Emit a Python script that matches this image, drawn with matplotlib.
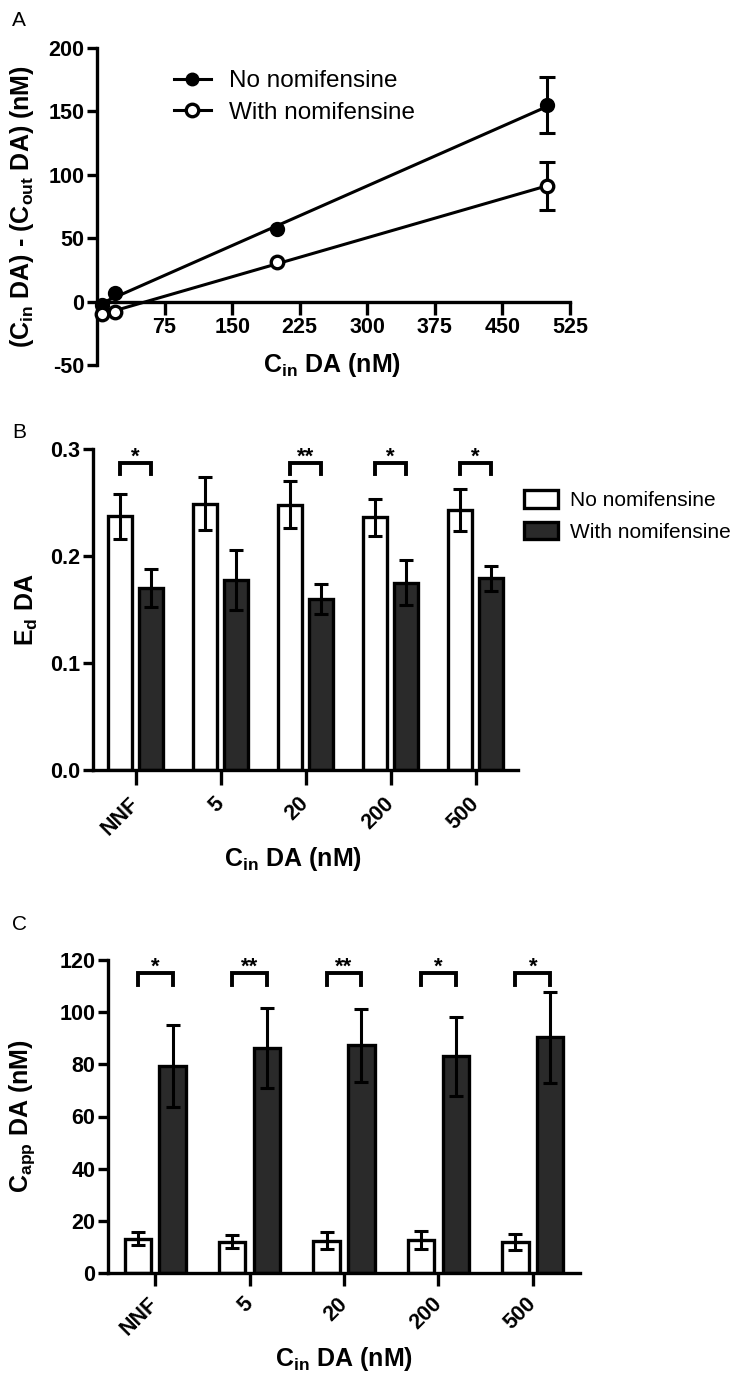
import numpy as np
import matplotlib.pyplot as plt
from matplotlib.lines import Line2D
from matplotlib.ticker import FormatStrFormatter

plt.rcParams['font.family'] = 'Liberation Sans'
plt.rcParams['font.weight'] = 'bold'
plt.rcParams['axes.labelweight'] = 'bold'
plt.rcParams['axes.unicode_minus'] = False
plt.rcParams['mathtext.fontset'] = 'custom'
plt.rcParams['mathtext.rm'] = 'Liberation Sans:bold'
plt.rcParams['mathtext.bf'] = 'Liberation Sans:bold'
plt.rcParams['mathtext.it'] = 'Liberation Sans:bold'
plt.rcParams['mathtext.default'] = 'bf'

# panel A: uptake vs inlet concentration
cin = [5, 20, 200, 500]
diff_no = [-3, 7, 57, 155]
diff_no_err = [0, 0, 0, 22]
diff_with = [-10, -8, 31, 91]
diff_with_err = [0, 0, 0, 19]

# panels B and C
groups = ['NNF', '5', '20', '200', '500']
ed_no = [0.237, 0.249, 0.248, 0.236, 0.243]
ed_no_err = [0.021, 0.025, 0.022, 0.017, 0.020]
ed_with = [0.170, 0.178, 0.160, 0.175, 0.179]
ed_with_err = [0.018, 0.028, 0.014, 0.021, 0.012]
ed_stars = ['*', '', '**', '*', '*']

capp_no = [13.2, 11.9, 12.4, 12.6, 11.9]
capp_no_err = [2.5, 2.5, 3.2, 3.4, 2.9]
capp_with = [79.3, 86.2, 87.4, 83.1, 90.4]
capp_with_err = [15.8, 15.3, 14.0, 15.2, 17.5]
capp_stars = ['*', '**', '**', '*', '*']

darkgrey = '#2a2a2a'
lw = 2.4
tick_fs = 15.5
lab_fs = 18

W, H = 746.0, 1377.0
fig = plt.figure(figsize=(W/100, H/100), dpi=100)


def px_axes(l, t, r, b):
    return fig.add_axes([l/W, 1 - b/H, (r - l)/W, (b - t)/H])


def style(ax, xlen, ylen):
    for s in ['top', 'right']:
        ax.spines[s].set_visible(False)
    for s in ['left', 'bottom']:
        ax.spines[s].set_linewidth(lw)
    ax.tick_params(axis='y', length=ylen, width=lw, labelsize=tick_fs, pad=2)
    ax.tick_params(axis='x', length=xlen, width=lw, labelsize=tick_fs)


# ---------------- A ----------------
axA = px_axes(97, 48, 570, 365)
style(axA, 9, 7)
axA.spines['bottom'].set_position(('data', 0))
for y in [diff_no, diff_with]:
    k = np.polyfit(cin, y, 1)
    xs = np.array([min(cin), max(cin)])
    axA.plot(xs, np.polyval(k, xs), color='k', lw=2.2, zorder=2, clip_on=False)
axA.plot(cin, diff_no, 'o', ms=9, mfc='k', mec='k', mew=2, zorder=4, clip_on=False)
axA.plot(cin, diff_with, 'o', ms=9, mfc='white', mec='k', mew=2.4, zorder=5, clip_on=False)
for y, e in [(diff_no, diff_no_err), (diff_with, diff_with_err)]:
    m = np.array(e) > 0
    axA.errorbar(np.array(cin)[m], np.array(y)[m], yerr=np.array(e)[m], fmt='none',
                 ecolor='k', elinewidth=2.2, capsize=6, capthick=2.2, zorder=3)
axA.set_xlim(0, 525)
axA.set_ylim(-50, 200)
axA.set_xticks([75, 150, 225, 300, 375, 450, 525])
axA.set_yticks([-50, 0, 50, 100, 150, 200])
axA.tick_params(axis='x', pad=2)
axA.set_xlabel('C$_{in}$ DA (nM)', fontsize=lab_fs)
axA.xaxis.set_label_coords(0.497, 0.045)
axA.set_ylabel('(C$_{in}$ DA) - (C$_{out}$ DA) (nM)', fontsize=lab_fs)
axA.yaxis.set_label_coords(-0.13, 0.5)
hA = [Line2D([], [], color='k', lw=2.2, marker='o', ms=9, mfc='k', mec='k'),
      Line2D([], [], color='k', lw=2.2, marker='o', ms=9, mfc='white', mec='k', mew=2.4)]
axA.legend(hA, ['No nomifensine', 'With nomifensine'], loc='upper left',
           bbox_to_anchor=(162/W, 1 - 58/H), bbox_transform=fig.transFigure,
           frameon=False, borderpad=0, handlelength=1.5, handletextpad=0.75,
           labelspacing=0.4, numpoints=1, prop={'size': 17.5, 'weight': 'normal'})


def bar_panel(ax, no, no_err, wi, wi_err, stars, top, leg):
    x = np.arange(len(groups))
    off, bw = 0.185, 0.28
    ax.bar(x - off, no, bw, color='white', edgecolor='k', linewidth=lw,
           label='No nomifensine', zorder=2)
    ax.bar(x + off, wi, bw, color=darkgrey, edgecolor='k', linewidth=lw,
           label='With nomifensine', zorder=2)
    ax.errorbar(x - off, no, yerr=no_err, fmt='none', ecolor='k', elinewidth=2.2,
                capsize=5, capthick=2.2, zorder=3)
    ax.errorbar(x + off, wi, yerr=wi_err, fmt='none', ecolor='k', elinewidth=2.2,
                capsize=5, capthick=2.2, zorder=3)
    ytop, yleg = top
    for i, s in enumerate(stars):
        if not s:
            continue
        ax.plot([i - off, i - off, i + off, i + off], [yleg, ytop, ytop, yleg],
                color='k', lw=2.8, solid_joinstyle='miter', clip_on=False)
        ax.text(i, ytop, s, ha='center', va='baseline', fontsize=16, clip_on=False)
    ax.set_xlim(-0.5, 4.5)
    ax.set_xticks(x)
    ax.set_xticklabels(groups, rotation=45, ha='right', va='center',
                       rotation_mode='anchor')
    if leg:
        ax.legend(loc='upper left', bbox_to_anchor=(514/W, 1 - 480/H),
                  bbox_transform=fig.transFigure, frameon=False, borderpad=0,
                  handlelength=1.6, handleheight=0.9, handletextpad=0.6,
                  labelspacing=0.55, prop={'size': 15, 'weight': 'normal'})


# ---------------- B ----------------
axB = px_axes(93, 449, 518, 770)
style(axB, 11, 7)
bar_panel(axB, ed_no, ed_no_err, ed_with, ed_with_err, ed_stars, (0.287, 0.277), True)
axB.set_ylim(0, 0.3)
axB.set_yticks([0.0, 0.1, 0.2, 0.3])
axB.yaxis.set_major_formatter(FormatStrFormatter('%.1f'))
axB.tick_params(axis='x', pad=11)
axB.set_ylabel('E$_d$ DA', fontsize=lab_fs)
axB.yaxis.set_label_coords(-0.125, 0.5)
axB.set_xlabel('C$_{in}$ DA (nM)', fontsize=lab_fs)
axB.xaxis.set_label_coords(0.47, -0.235)

# ---------------- C ----------------
axC = px_axes(108, 960, 580, 1273)
style(axC, 9, 7)
bar_panel(axC, capp_no, capp_no_err, capp_with, capp_with_err, capp_stars, (115, 110.5), False)
axC.set_ylim(0, 120)
axC.set_yticks([0, 20, 40, 60, 80, 100, 120])
axC.tick_params(axis='x', pad=11)
axC.set_ylabel('C$_{app}$ DA (nM)', fontsize=lab_fs)
axC.yaxis.set_label_coords(-0.15, 0.5)
axC.set_xlabel('C$_{in}$ DA (nM)', fontsize=lab_fs)
axC.xaxis.set_label_coords(0.5, -0.23)

for lab, y in [('A', 20), ('B', 432), ('C', 925)]:
    fig.text(12/W, 1 - y/H, lab, fontsize=15, fontweight='normal', va='center')

fig.savefig('out.png', dpi=100)
